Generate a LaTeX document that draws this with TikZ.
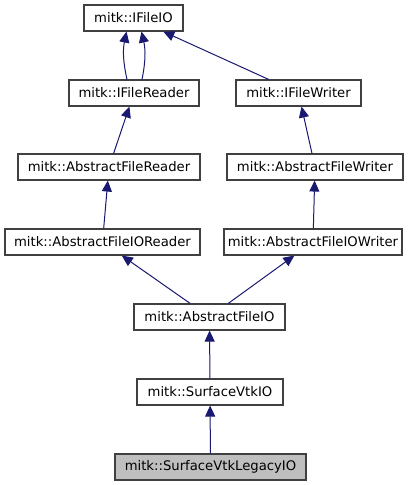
\documentclass[tikz,border=0pt]{standalone}
\usepackage{fontspec}
\setmainfont{DejaVu Sans}
\usetikzlibrary{arrows.meta}
\definecolor{edgeblue}{HTML}{191970}
\begin{document}
\begin{tikzpicture}[x=1pt, y=-1pt]
        % Common styles
        \tikzstyle{cls}=[draw=black!75, line width=1.1pt, fill=white, inner sep=0pt, minimum height=26pt, font=\fontsize{13.2}{15}\selectfont]
        \tikzstyle{edge}=[-{Triangle[length=11pt, width=10pt]}, edgeblue, line width=1pt]
        \useasboundingbox (0,0) rectangle (419,485);

        % --- Interfaces ---
        \node[cls, minimum width=99pt] (iio) at (133.5,18) {mitk::IFileIO};
        \node[cls, minimum width=130pt] (ifr) at (134,93) {mitk::IFileReader};
        \node[cls, minimum width=125pt] (ifw) at (298.5,93) {mitk::IFileWriter};

        % --- Abstract bases ---
        \node[cls, minimum width=182pt] (afr) at (109,167) {mitk::AbstractFileReader};
        \node[cls, minimum width=176pt] (afw) at (315,167) {mitk::AbstractFileWriter};
        \node[cls, minimum width=195pt] (afior) at (102.5,242) {mitk::AbstractFileIOReader};
        \node[cls, minimum width=178pt] (afiow) at (313,242) {mitk::AbstractFileIOWriter};
        \node[cls, minimum width=151pt] (afio) at (209.5,317) {mitk::AbstractFileIO};

        % --- Surface IO ---
        \node[cls, minimum width=146pt] (svio) at (210,392) {mitk::SurfaceVtkIO};
        \node[cls, minimum width=191pt, fill=gray!50] (svlio) at (210.5,467) {mitk::SurfaceVtkLegacyIO};

        % Inheritance
        \draw[edge] ([xshift=-7pt]ifr.north) to[bend left=12] ([xshift=-7pt]iio.south);
        \draw[edge] ([xshift=8pt]ifr.north) to[bend right=12] ([xshift=8pt]iio.south);
        \draw[edge] (ifw) -- (iio);
        \draw[edge] (afr) -- (ifr);
        \draw[edge] (afw) -- (ifw);
        \draw[edge] (afior) -- (afr);
        \draw[edge] (afiow) -- (afw);
        \draw[edge] (afio) -- (afior);
        \draw[edge] (afio) -- (afiow);
        \draw[edge] (svio) -- (afio);
        \draw[edge] (svlio) -- (svio);

    \end{tikzpicture}
\end{document}
